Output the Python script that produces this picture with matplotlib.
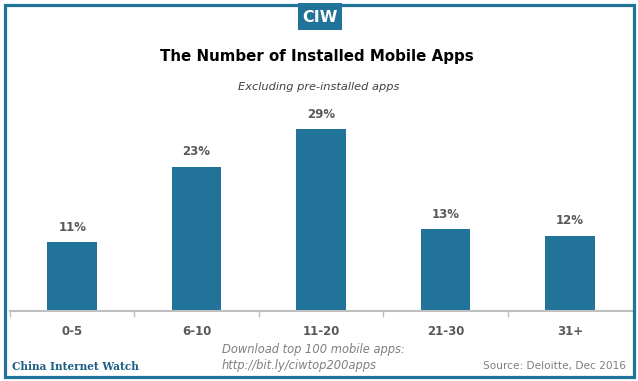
import matplotlib
matplotlib.use("Agg")
import matplotlib.pyplot as plt
from matplotlib.patches import Rectangle

categories = ["0-5", "6-10", "11-20", "21-30", "31+"]
values = [11, 23, 29, 13, 12]
value_labels = ["11%", "23%", "29%", "13%", "12%"]

BLUE = "#21739a"
GRAY = "#595959"

W, H = 638, 381
fig = plt.figure(figsize=(W / 100, H / 100), dpi=100)
fig.patch.set_facecolor("white")

# frame
fig.add_artist(Rectangle((4.5 / W, 4.5 / H), (W - 9) / W, (H - 9) / H,
                         transform=fig.transFigure, fill=False,
                         edgecolor=BLUE, linewidth=2.3))
# CIW logo box
fig.add_artist(Rectangle((298 / W, 1 - 30 / H), 44 / W, 27 / H,
                         transform=fig.transFigure, facecolor=BLUE,
                         edgecolor="none"))
fig.text(320 / W, 1 - 17 / H, "CIW", color="white", fontsize=11.5,
         fontweight="bold", ha="center", va="center",
         family="Liberation Sans Narrow")

# axes
left, right = 10, 632
base, top = 311, 100
ax = fig.add_axes([left / W, (H - base) / H, (right - left) / W, (base - top) / H])
px_per_unit = 6.27
ax.set_ylim(0, (base - top) / px_per_unit)
ax.set_xlim(-0.5, len(categories) - 0.5)
x = range(len(categories))
bars = ax.bar(x, values, width=0.40, color=BLUE, zorder=2)
for xi, v, lab in zip(x, values, value_labels):
    ax.annotate(lab, (xi, v), xytext=(0, 6), textcoords="offset points",
                ha="center", va="bottom", fontsize=8.5, fontweight="bold",
                color=GRAY)

for s in ["top", "right", "left"]:
    ax.spines[s].set_visible(False)
ax.spines["bottom"].set_color("#bfbfbf")
ax.spines["bottom"].set_linewidth(1.5)
ax.set_yticks([])
ax.set_xticks(list(x))
ax.set_xticklabels(categories, fontsize=8.5, fontweight="bold", color=GRAY)
ax.tick_params(axis="x", which="major", length=0, pad=10)
ax.set_xticks([i - 0.5 for i in range(len(categories))], minor=True)
ax.tick_params(axis="x", which="minor", length=4, color="#bfbfbf", width=1)
ax.set_facecolor("none")

# titles
fig.text(317 / W, 1 - 57 / H, "The Number of Installed Mobile Apps",
         ha="center", va="center", fontsize=10.8, fontweight="bold", color="black")
fig.text(319 / W, 1 - 87 / H, "Excluding pre-installed apps",
         ha="center", va="center", fontsize=8.2, style="italic", color="#404040")

# footer
fig.text(12 / W, 1 - 366 / H, "China Internet Watch", ha="left", va="center",
         fontsize=7.6, fontweight="bold", color="#1f5f86", family="DejaVu Serif")
fig.text(222 / W, 1 - 349 / H, "Download top 100 mobile apps:", ha="left",
         va="center", fontsize=8.3, style="italic", color="#7f7f7f")
fig.text(222 / W, 1 - 366 / H, "http://bit.ly/ciwtop200apps", ha="left",
         va="center", fontsize=8.3, style="italic", color="#7f7f7f")
fig.text(626 / W, 1 - 366 / H, "Source: Deloitte, Dec 2016", ha="right",
         va="center", fontsize=7.6, color="#7f7f7f")

fig.savefig("out.png", dpi=100, facecolor="white")
